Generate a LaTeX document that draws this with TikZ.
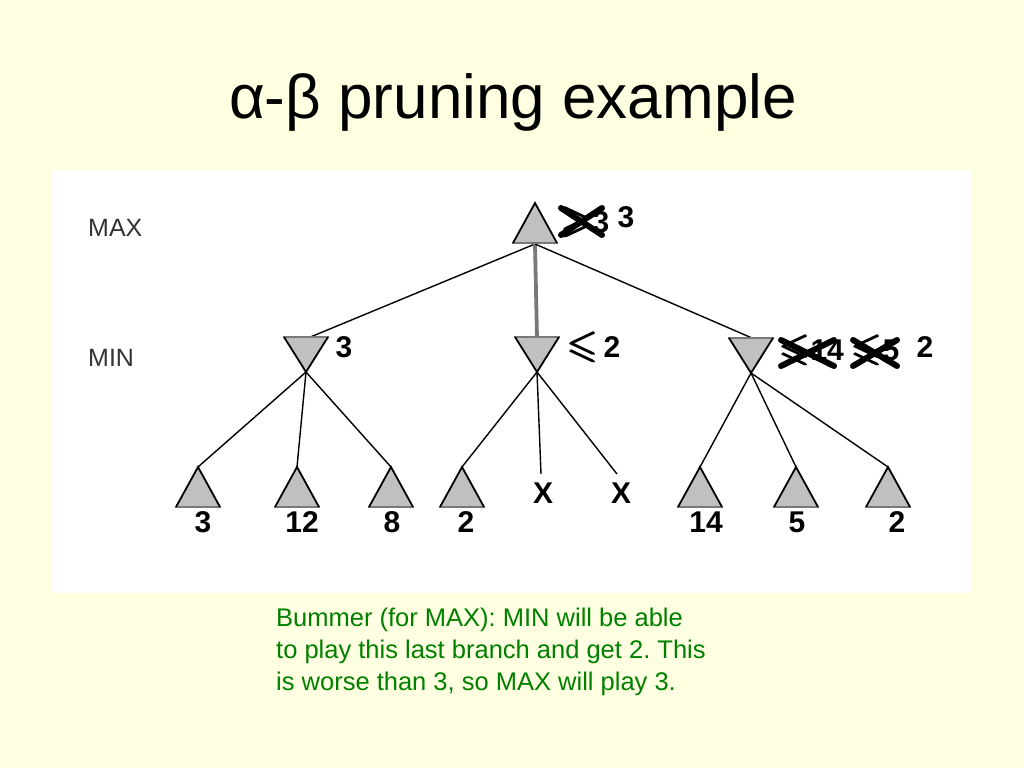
\documentclass[tikz,border=0pt]{standalone}
\usepackage{amsmath,amssymb}
\usepackage{graphicx}
\usepackage{fontspec}
\setmainfont{Liberation Sans}
\frenchspacing
\definecolor{bg}{RGB}{255,255,225}
\definecolor{trifill}{RGB}{192,192,192}
\definecolor{basegray}{RGB}{120,120,120}
\definecolor{txtgreen}{RGB}{0,128,0}
\newcommand\lesl{\scalebox{1.3}{$\pmb{\leqslant}$}}
\newcommand\gesl{\scalebox{1.3}{$\pmb{\geqslant}$}}
\tikzset{
  edge/.style={draw=black, line width=1.4pt},
  val/.style={font=\bfseries\fontsize{30}{30}\selectfont, inner sep=0pt, anchor=base},
  lvl/.style={font=\fontsize{25}{25}\selectfont, inner sep=0pt, anchor=base west, text=black!80},
  cross/.style={draw=black, line width=6pt, line cap=round},
  note/.style={font=\fontsize{25.5}{32}\selectfont, text=txtgreen, inner sep=0pt, anchor=base west}
}
% up-pointing triangle: name, apex x, apex y
\newcommand\uptri[3]{%
  \fill[trifill] (#2,#3) -- (#2-22,#3+40) -- (#2+22,#3+40) -- cycle;
  \draw[basegray,line width=2.2pt] (#2-23,#3+40) -- (#2+23,#3+40);
  \draw[black,line width=1.8pt] (#2-22,#3+40) -- (#2,#3) -- (#2+22,#3+40);
  \coordinate (#1t) at (#2,#3);
  \coordinate (#1b) at (#2,#3+40);
}
% down-pointing triangle: name, centre x, top y
\newcommand\dntri[3]{%
  \fill[trifill] (#2-22,#3) -- (#2+22,#3) -- (#2,#3+35) -- cycle;
  \draw[basegray,line width=2.2pt] (#2-23,#3) -- (#2+23,#3);
  \draw[black,line width=1.8pt] (#2-22,#3) -- (#2,#3+35) -- (#2+22,#3);
  \coordinate (#1t) at (#2,#3);
  \coordinate (#1b) at (#2,#3+35);
}
\begin{document}
\begin{tikzpicture}[x=1pt,y=-1pt]
\fill[bg] (0,0) rectangle (1024,768);
\useasboundingbox (0,0) rectangle (1024,768);
\fill[white] (52,170) rectangle (972,593);

\node[font=\fontsize{62}{62}\selectfont, inner sep=0pt, anchor=base] (title) at (513,118) {α-β pruning example};

\node[lvl] (maxlbl) at (88,236) {MAX};
\node[lvl] (minlbl) at (88,366) {MIN};

% connectors first (under triangles)
\coordinate (rootB) at (535,244);
\coordinate (mLT) at (308,338);
\coordinate (mMT) at (537,338);
\coordinate (mRT) at (752,338);
\draw[edge] (rootB) -- (mLT);
\draw[draw=basegray, line width=3.8pt] (rootB) -- (mMT);
\draw[edge] (rootB) -- (mRT);

\coordinate (mLB) at (306,372);
\coordinate (mMB) at (537,372);
\coordinate (mRB) at (751,373);
\coordinate (l1) at (198,467);
\coordinate (l2) at (297,467);
\coordinate (l3) at (391,467);
\coordinate (l4) at (462,467);
\coordinate (x1) at (541,474);
\coordinate (x2) at (617,474);
\coordinate (l5) at (700,467);
\coordinate (l6) at (796,467);
\coordinate (l7) at (888,467);
\draw[edge] (mLB) -- (l1);
\draw[edge] (mLB) -- (l2);
\draw[edge] (mLB) -- (l3);
\draw[edge] (mMB) -- (l4);
\draw[edge] (mMB) -- (x1);
\draw[edge] (mMB) -- (x2);
\draw[edge] (mRB) -- (l5);
\draw[edge] (mRB) -- (l6);
\draw[edge] (mRB) -- (l7);

% triangles
\uptri{root}{535}{203}
\dntri{minL}{306}{337}
\dntri{minM}{537}{337}
\dntri{minR}{751}{338}
\uptri{leafA}{198}{467}
\uptri{leafB}{297}{467}
\uptri{leafC}{391}{467}
\uptri{leafD}{462}{467}
\uptri{leafE}{700}{467}
\uptri{leafF}{796}{467}
\uptri{leafG}{888}{467}

% leaf values
\node[val] (v1) at (203,532) {3};
\node[val] (v2) at (302,532) {12};
\node[val] (v3) at (392,532) {8};
\node[val] (v4) at (466,532) {2};
\node[val] (v5) at (706,532) {14};
\node[val] (v6) at (797,532) {5};
\node[val] (v7) at (897,532) {2};
\node[val] (xa) at (543,503) {X};
\node[val] (xb) at (621,503) {X};

% MIN / MAX values
\node[val] (vL) at (344,357) {3};
\node[val, anchor=base west] (vM) at (568,357) {\lesl\,2};
\node[val] (vR) at (925,357) {2};
\node[val] (vRoot) at (626,227) {3};

% crossed-out values
\node[val, anchor=base west] (oldRoot) at (562,232) {\gesl3};
\draw[cross] (561,208) -- (602,235);
\draw[cross] (561,235) -- (602,208);
\node[val, anchor=base west] (old14) at (780,360) {\lesl14};
\draw[cross] (781,340) -- (834,366);
\draw[cross] (781,366) -- (834,340);
\node[val, anchor=base west] (old5) at (852,360) {\lesl5};
\draw[cross] (853,340) -- (897,366);
\draw[cross] (853,366) -- (897,340);

\node[note] (n1) at (276,626) {Bummer (for MAX): MIN will be able};
\node[note] (n2) at (276,658) {to play this last branch and get 2. This};
\node[note] (n3) at (276,690) {is worse than 3, so MAX will play 3.};
\end{tikzpicture}
\end{document}
